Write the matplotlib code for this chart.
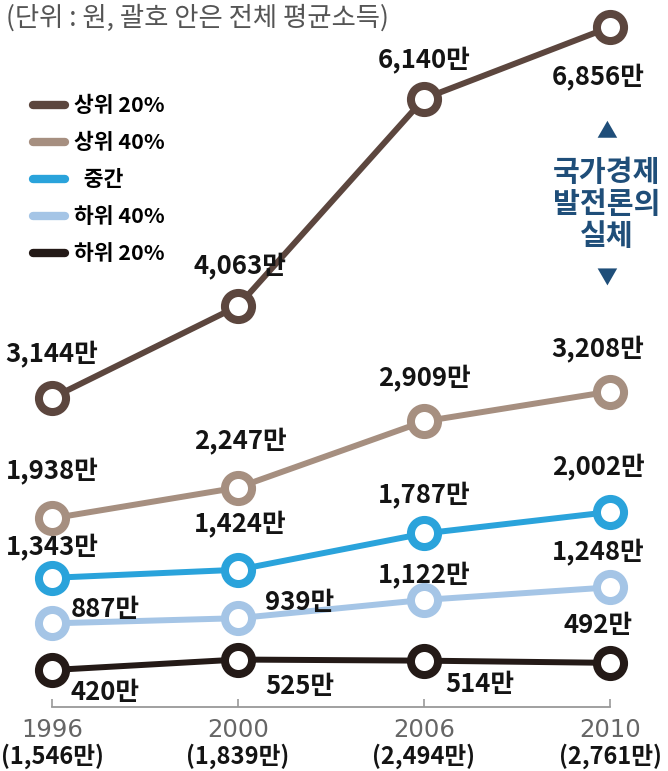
import matplotlib.pyplot as plt
from matplotlib.lines import Line2D

plt.rcParams['font.family'] = ['Noto Sans CJK KR', 'DejaVu Sans']

# 데이터 (단위: 만원)
years = ['1996', '2000', '2006', '2010']
averages = ['(1,546만)', '(1,839만)', '(2,494만)', '(2,761만)']
groups = ['상위 20%', '상위 40%', '중간', '하위 40%', '하위 20%']
top20 = [3144, 4063, 6140, 6856]
top40 = [1938, 2247, 2909, 3208]
middle = [1343, 1424, 1787, 2002]
bottom40 = [887, 939, 1122, 1248]
bottom20 = [420, 525, 514, 492]
series = [top20, top40, middle, bottom40, bottom20]

colors = ['#5c463e', '#a68f80', '#2aa3db', '#a5c5e6', '#241a17']

# 값 라벨 위치 (점 기준 픽셀 오프셋)
offsets = [
    [(0, 43), (2, 39), (0, 38), (-12, -51)],
    [(0, 47), (2, 46), (0, 43), (-12, 42)],
    [(0, 30), (2, 45), (0, 38), (-12, 44)],
    [(53, 14), (62, 16), (0, 24), (-12, 35)],
    [(53, -22), (62, -27), (56, -24), (-12, 37)],
]

W, H = 668, 771
fig = plt.figure(figsize=(W / 100, H / 100), dpi=100)
ax = fig.add_axes([0, 0, 1, 1])

x = list(range(len(years)))
px_per_x = 186
px_per_v = 0.0999
ax.set_xlim(-52 / px_per_x, 3 + 58 / px_per_x)
ax.set_ylim((712 - H) / px_per_v, 712 / px_per_v)

for vals, c, offs in zip(series, colors, offsets):
    ax.plot(x, vals, color=c, linewidth=4.3, marker='o', markersize=19.5,
            markeredgewidth=5.8, markerfacecolor='white', markeredgecolor=c,
            clip_on=False, zorder=3)
    for xi, v, off in zip(x, vals, offs):
        ax.annotate(f'{v:,}만', (xi, v), xytext=off, textcoords='offset pixels',
                    ha='center', va='center', fontsize=18.5, fontweight='bold',
                    color='#141414', zorder=4)

# 축
for s in ['left', 'right', 'top']:
    ax.spines[s].set_visible(False)
ax.spines['bottom'].set_position(('data', 50))
ax.spines['bottom'].set_bounds(0, 3)
ax.spines['bottom'].set_color('#999999')
ax.spines['bottom'].set_linewidth(1.3)
ax.set_xticks(x)
ax.set_xticklabels([])
ax.set_yticks([])
ax.tick_params(axis='x', direction='in', length=6, width=1.2, color='#999999')

trans = ax.get_xaxis_transform()
for xi, yr, avg in zip(x, years, averages):
    ax.text(xi, 1 - 730 / H, yr, transform=trans, ha='center', va='center',
            fontsize=17.5, color='#666666',
            family=['Liberation Sans Narrow', 'DejaVu Sans'])
    ax.text(xi, 1 - 756 / H, avg, transform=trans, ha='center', va='center',
            fontsize=17, fontweight='bold', color='#141414')

# 범례
handles = [Line2D([], [], color=c, linewidth=6, solid_capstyle='round') for c in colors]
labels = [g if g != '중간' else '  중간' for g in groups]
leg = ax.legend(handles, labels, loc='upper left', bbox_to_anchor=(14 / W, 1 - 76 / H),
                frameon=False, handlelength=1.45, handletextpad=0.45,
                labelspacing=0.74, prop={'weight': 'bold', 'size': 15.5})

# 제목
fig.text(6 / W, 1 - 18 / H, '(단위 : 원, 괄호 안은 전체 평균소득)', ha='left', va='center',
         fontsize=19, color='#555555')

# 오른쪽 주석
note_color = '#1f4e79'
fig.text(607 / W, 1 - 131 / H, '▲', ha='center', va='center', fontsize=15, color=note_color)
fig.text(607 / W, 1 - 204 / H, '국가경제\n발전론의\n실체', ha='center', va='center',
         fontsize=21, fontweight='bold', color=note_color, linespacing=1.1)
fig.text(607 / W, 1 - 278 / H, '▼', ha='center', va='center', fontsize=15, color=note_color)

fig.savefig('out.png', dpi=100)
